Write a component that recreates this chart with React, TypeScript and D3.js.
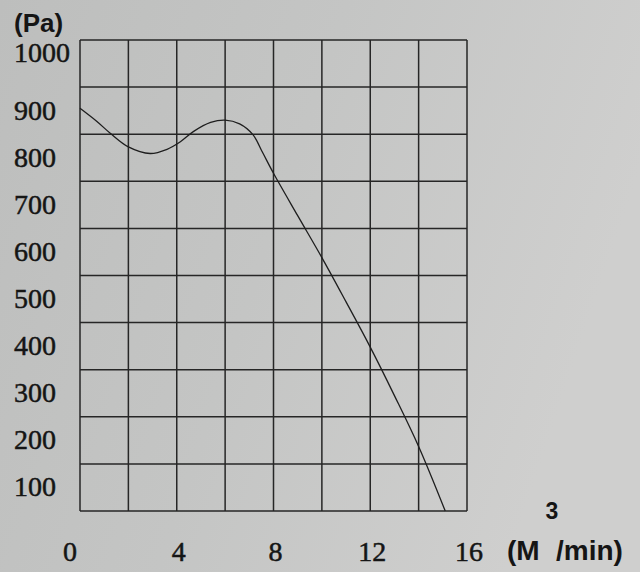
import React from "react";
import * as d3 from "d3";

// Air flow (m³/min) vs pressure (Pa), read against the grid lines
const flow = [0, 0.7, 1.25, 2.0, 2.9, 3.6, 4.15, 4.7, 5.4, 6.0, 6.6, 7.15, 7.55, 8.0, 9.0, 10.0, 11.0, 12.0, 13.0, 14.0, 15.1];
const pressure = [855, 827, 802, 773, 759, 768, 784, 806, 825, 830, 822, 799, 761, 717, 627, 538, 444, 348, 245, 137, 0];

const xTicks = [0, 4, 8, 12, 16];
const xGrid = [0, 2, 4, 6, 8, 10, 12, 14, 16];
const yTicks = [1000, 900, 800, 700, 600, 500, 400, 300, 200, 100];
const yGrid = [0, 100, 200, 300, 400, 500, 600, 700, 800, 900, 1000];

const W = 640;
const H = 572;
const left = 80, right = 467, top = 40, bottom = 511;

export default function App() {
  const x = d3.scaleLinear().domain([0, 16]).range([left, right]);
  const y = d3.scaleLinear().domain([0, 1000]).range([bottom, top]);
  const line = d3
    .line<number>()
    .x((_, i) => x(flow[i]))
    .y((d) => y(d))
    .curve(d3.curveCatmullRom.alpha(0.5));

  const serif = "Liberation Serif, DejaVu Serif, Times New Roman, serif";
  const sans = "Liberation Sans, Arial, sans-serif";

  return (
    <svg
      width={W}
      height={H}
      viewBox={`0 0 ${W} ${H}`}
      style={{ position: "absolute", left: 0, top: 0, display: "block" }}
    >
      <defs>
        <linearGradient id="bg" x1="0" y1="0" x2="1" y2="0.3">
          <stop offset="0" stopColor="#bdbebd" />
          <stop offset="0.5" stopColor="#c4c5c4" />
          <stop offset="1" stopColor="#cfcfce" />
        </linearGradient>
      </defs>
      <rect x={0} y={0} width={W} height={H} fill="url(#bg)" />

      {/* grid */}
      <g stroke="#262626" strokeWidth={1.5}>
        {xGrid.map((v) => (
          <line key={"vx" + v} x1={x(v)} x2={x(v)} y1={y(0)} y2={y(1000)} />
        ))}
        {yGrid.map((v) => (
          <line key={"hy" + v} x1={x(0)} x2={x(16)} y1={y(v)} y2={y(v)} />
        ))}
      </g>

      {/* curve */}
      <path d={line(pressure) || ""} fill="none" stroke="#1e1e1e" strokeWidth={1.3} />

      {/* y tick labels */}
      <g style={{ fontFamily: serif }} fontSize={28} fill="#151515" stroke="#151515" strokeWidth={0.5}>
        {yTicks.map((v) => (
          <text key={"yt" + v} x={14} y={(v === 1000 ? y(v) + 13 : y(v - 50)) + 9}>
            {v}
          </text>
        ))}
      </g>

      {/* x tick labels */}
      <g style={{ fontFamily: serif }} fontSize={28} fill="#151515" stroke="#151515" strokeWidth={0.5} textAnchor="middle">
        {xTicks.map((v) => (
          <text key={"xt" + v} x={v === 0 ? x(v) - 10 : x(v) + 2} y={561}>
            {v}
          </text>
        ))}
      </g>

      {/* axis units */}
      <g style={{ fontFamily: sans }} fontWeight="bold" fill="#151515">
        <text x={14} y={32} fontSize={26}>(Pa)</text>
        <text x={507} y={560} fontSize={28}>(M</text>
        <text x={556} y={560} fontSize={28}>/min)</text>
        <text x={552} y={519} fontSize={23} textAnchor="middle">3</text>
      </g>
    </svg>
  );
}
